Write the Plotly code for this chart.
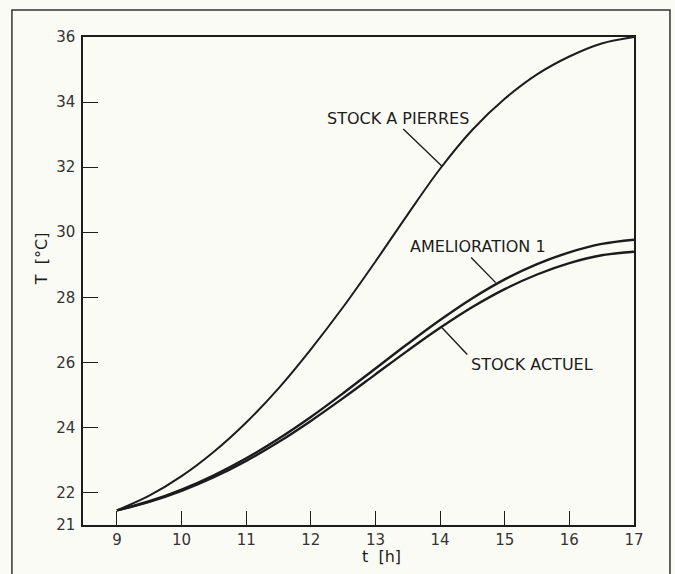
import plotly.graph_objects as go

# --- data ---
hours = [9, 9.5, 10, 10.5, 11, 11.5, 12, 12.5, 13, 13.5, 14, 14.5, 15, 15.5, 16, 16.5, 17]
stock_pierres = [21.45, 21.9, 22.5, 23.25, 24.15, 25.2, 26.4, 27.7, 29.1, 30.55, 31.95, 33.15,
                 34.1, 34.85, 35.4, 35.8, 36.0]
amelioration_1 = [21.45, 21.73, 22.09, 22.53, 23.05, 23.65, 24.32, 25.05, 25.81, 26.57, 27.3,
                  27.97, 28.55, 29.02, 29.38, 29.64, 29.77]
stock_actuel = [21.45, 21.71, 22.05, 22.47, 22.97, 23.55, 24.2, 24.9, 25.63, 26.36, 27.06,
                27.7, 28.25, 28.7, 29.05, 29.29, 29.4]

x_ticks = [9, 10, 11, 12, 13, 14, 15, 16, 17]
y_ticks = [21, 22, 24, 26, 28, 30, 32, 34, 36]

series_names = ["STOCK A PIERRES", "AMELIORATION 1", "STOCK ACTUEL"]

INK = "#1c1c1c"
BG = "#fbfbf6"
FONT = "DejaVu Sans, Liberation Sans, sans-serif"

fig = go.Figure()
for name, vals, w in [(series_names[0], stock_pierres, 2.0),
                      (series_names[1], amelioration_1, 2.4),
                      (series_names[2], stock_actuel, 2.4)]:
    fig.add_trace(go.Scatter(x=hours, y=vals, mode="lines", name=name,
                             line=dict(color=INK, width=w, shape="spline", smoothing=1.0),
                             showlegend=False, hoverinfo="skip"))

# leader lines (data coords)
leaders = [((13.43, 33.17), (14.03, 32.03)),
           ((14.48, 29.22), (14.86, 28.45)),
           ((14.03, 27.06), (14.42, 26.24))]
for (x0, y0), (x1, y1) in leaders:
    fig.add_shape(type="line", xref="x", yref="y", x0=x0, y0=y0, x1=x1, y1=y1,
                  line=dict(color=INK, width=1.4))

label_pos = [(13.35, 33.5), (14.59, 29.56), (15.42, 25.93)]
for name, (lx, ly) in zip(series_names, label_pos):
    fig.add_annotation(x=lx, y=ly, xref="x", yref="y", text=name, showarrow=False,
                       font=dict(family=FONT, size=16, color=INK))

# axis titles
fig.add_annotation(x=13.1, y=-0.065, xref="x", yref="paper", text="t  [h]", showarrow=False,
                   font=dict(family=FONT, size=16, color=INK), yanchor="middle")
fig.add_annotation(x=-0.076, y=0.545, xref="paper", yref="paper", text="T  [°C]", showarrow=False,
                   textangle=-90, xanchor="center", yanchor="middle",
                   font=dict(family=FONT, size=16, color=INK))

# outer frame
fig.add_shape(type="rect", xref="paper", yref="paper", x0=-0.129, x1=1.0653, y0=-0.13, y1=1.0553,
              line=dict(color="#333", width=1.5), layer="below")

fig.update_xaxes(range=[8.475, 17], tickvals=x_ticks, ticktext=[str(v) for v in x_ticks],
                 ticks="inside", ticklen=14, tickwidth=1.4, tickcolor=INK,
                 showline=True, linecolor=INK, linewidth=1.5, mirror=True,
                 showgrid=False, zeroline=False,
                 tickfont=dict(family=FONT, size=15, color="#333"))
fig.update_yaxes(range=[21, 36], tickvals=y_ticks, ticktext=[str(v) for v in y_ticks],
                 ticks="inside", ticklen=15, tickwidth=1.4, tickcolor=INK,
                 showline=True, linecolor=INK, linewidth=1.5, mirror=True,
                 showgrid=False, zeroline=False, ticklabelstandoff=3,
                 tickfont=dict(family=FONT, size=15, color="#333"))

fig.update_layout(width=675, height=574, paper_bgcolor=BG, plot_bgcolor=BG,
                  margin=dict(l=83, r=41, t=37, b=49), hovermode=False)

fig.write_html("out.html", config={"displayModeBar": False},
               post_script="document.body.style.margin='0';document.body.style.background='#fbfbf6';")
